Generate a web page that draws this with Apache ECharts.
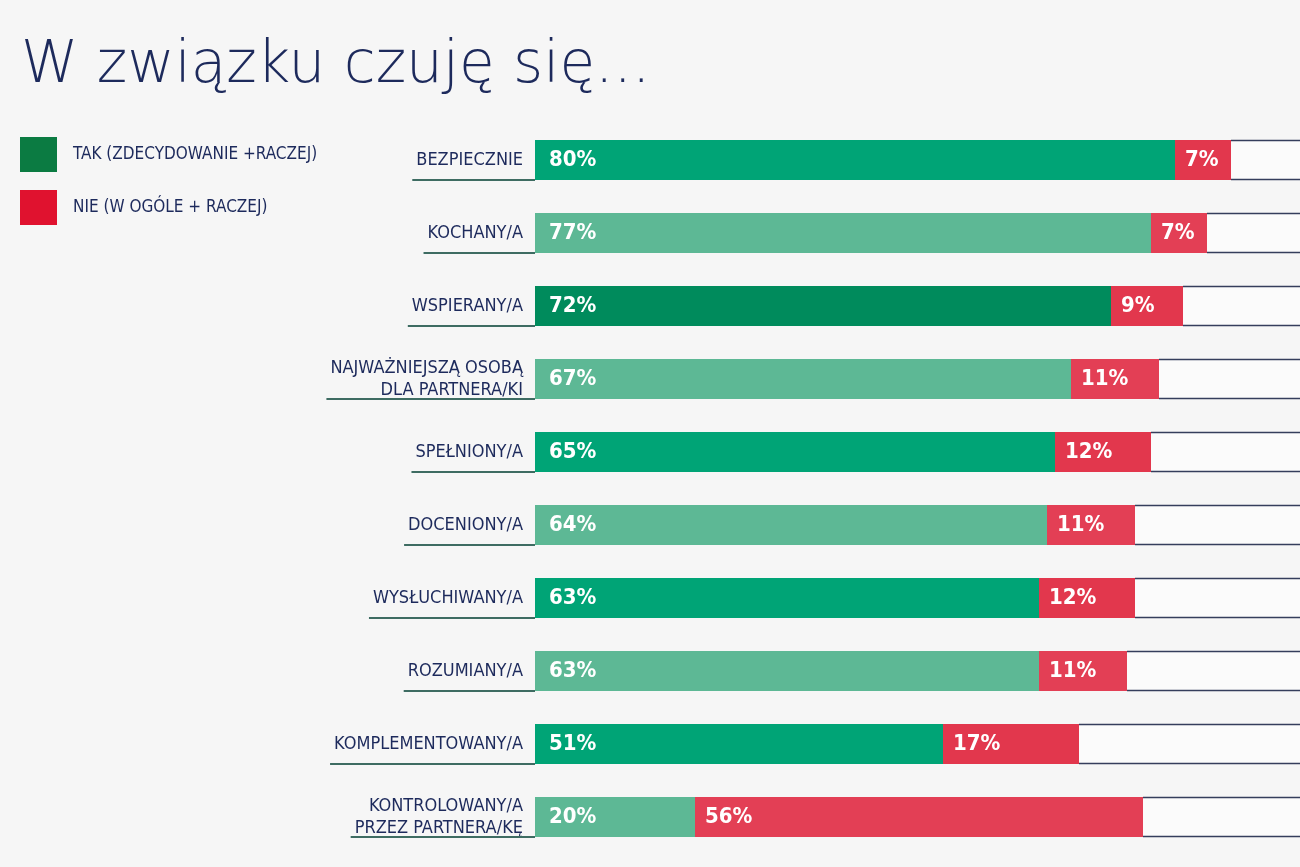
<!DOCTYPE html>
<html>
<head>
<meta charset="utf-8">
<script src="https://cdn.jsdelivr.net/npm/echarts@6/dist/echarts.min.js"></script>
<style>
  html, body { margin: 0; padding: 0; background: #f6f6f6; }
  #container { width: 1300px; height: 867px; }
</style>
</head>
<body>
<div id="container"></div>
<script>
var categories = [
  'BEZPIECZNIE',
  'KOCHANY/A',
  'WSPIERANY/A',
  'NAJWAŻNIEJSZĄ OSOBĄ\nDLA PARTNERA/KI',
  'SPEŁNIONY/A',
  'DOCENIONY/A',
  'WYSŁUCHIWANY/A',
  'ROZUMIANY/A',
  'KOMPLEMENTOWANY/A',
  'KONTROLOWANY/A\nPRZEZ PARTNERA/KĘ'
];
var takValues = [80, 77, 72, 67, 65, 64, 63, 63, 51, 20];
var nieValues = [7, 7, 9, 11, 12, 11, 12, 11, 17, 56];

var TAK = 'TAK (ZDECYDOWANIE +RACZEJ)';
var NIE = 'NIE (W OGÓLE + RACZEJ)';

var labelFont = '"DejaVu Sans Condensed", "DejaVu Sans", sans-serif';
var labelSize = 18;
var navy = '#1d2a5c';
var barH = 40;

// measure label widths so the underline can start under the text
var ctx = document.createElement('canvas').getContext('2d');
ctx.font = labelSize + 'px ' + labelFont;
var labelWidths = categories.map(function (c) {
  return Math.max.apply(null, c.split('\n').map(function (s) {
    return ctx.measureText(s).width;
  }));
});

var dom = document.getElementById('container');
var myChart = echarts.init(dom);

var option = {
  backgroundColor: '#f6f6f6',
  animation: false,
  title: {
    text: 'W związku czuję się...',
    left: 16,
    top: 33,
    textStyle: {
      fontFamily: '"DejaVu Sans", sans-serif',
      fontWeight: 200,
      fontSize: 58,
      color: navy
    }
  },
  legend: {
    orient: 'vertical',
    left: 15,
    top: 132,
    itemWidth: 37,
    itemHeight: 35,
    itemGap: 18,
    icon: 'rect',
    selectedMode: false,
    textStyle: {
      fontFamily: labelFont,
      fontSize: 17,
      color: navy,
      padding: [0, 0, 0, 11]
    },
    data: [
      { name: TAK, itemStyle: { color: '#0b7b42' } },
      { name: NIE, itemStyle: { color: '#e0122f' } }
    ]
  },
  grid: {
    left: 535,
    top: 123.5,
    width: 800,
    height: 730,
    containLabel: false,
    outerBoundsMode: 'none'
  },
  xAxis: {
    type: 'value',
    min: 0,
    max: 100,
    show: false
  },
  yAxis: {
    type: 'category',
    inverse: true,
    data: categories,
    axisLine: { show: false },
    axisTick: { show: false },
    splitLine: { show: false },
    axisLabel: {
      margin: 12,
      fontFamily: labelFont,
      fontSize: labelSize,
      lineHeight: 22,
      color: navy,
      align: 'right'
    }
  },
  series: [
    {
      // white remainder box with top and bottom rules, from the end of the stack to 100%
      type: 'custom',
      silent: true,
      z: 1,
      data: categories.map(function (c, i) { return [takValues[i] + nieValues[i], c]; }),
      encode: { x: 0, y: 1 },
      renderItem: function (params, api) {
        var a = api.coord([api.value(0), api.value(1)]);
        var b = api.coord([100, api.value(1)]);
        var y0 = a[1] - barH / 2;
        var y1 = a[1] + barH / 2;
        var lineStyle = { stroke: '#353e5c', lineWidth: 1.5 };
        return {
          type: 'group',
          children: [
            { type: 'rect', shape: { x: a[0], y: y0, width: b[0] - a[0], height: barH }, style: { fill: '#fbfbfb' } },
            { type: 'line', shape: { x1: a[0], y1: y0 + 0.5, x2: b[0], y2: y0 + 0.5 }, style: lineStyle },
            { type: 'line', shape: { x1: a[0], y1: y1 - 0.5, x2: b[0], y2: y1 - 0.5 }, style: lineStyle }
          ]
        };
      }
    },
    {
      name: TAK,
      type: 'bar',
      stack: 'total',
      barWidth: barH,
      z: 2,
      data: takValues,
      itemStyle: {
        color: function (p) {
          if (p.dataIndex % 2 === 1) return '#5db895';
          return p.dataIndex === 2 ? '#008b5c' : '#00a476';
        }
      },
      label: {
        show: true,
        position: 'insideLeft',
        distance: 14,
        formatter: '{c}%',
        color: '#ffffff',
        fontFamily: labelFont,
        fontWeight: 'bold',
        fontSize: 22
      }
    },
    {
      name: NIE,
      type: 'bar',
      stack: 'total',
      barWidth: barH,
      z: 2,
      data: nieValues,
      itemStyle: {
        color: function (p) {
          return p.dataIndex % 2 === 1 ? '#e33f55' : '#e2374d';
        }
      },
      label: {
        show: true,
        position: 'insideLeft',
        distance: 10,
        formatter: '{c}%',
        color: '#ffffff',
        fontFamily: labelFont,
        fontWeight: 'bold',
        fontSize: 22
      }
    },
    {
      // thin underline beneath each category label
      type: 'custom',
      silent: true,
      data: categories.map(function (c) { return [0, c]; }),
      encode: { x: 0, y: 1 },
      renderItem: function (params, api) {
        var pt = api.coord([0, api.value(1)]);
        var y = pt[1] + barH / 2;
        var w = labelWidths[params.dataIndex] + 12 + 4;
        return {
          type: 'line',
          shape: { x1: pt[0] - w, y1: y, x2: pt[0], y2: y },
          style: { stroke: '#3e6c62', lineWidth: 2 }
        };
      }
    }
  ]
};

if (option && typeof option === 'object') {
  myChart.setOption(option);
}
</script>
</body>
</html>
